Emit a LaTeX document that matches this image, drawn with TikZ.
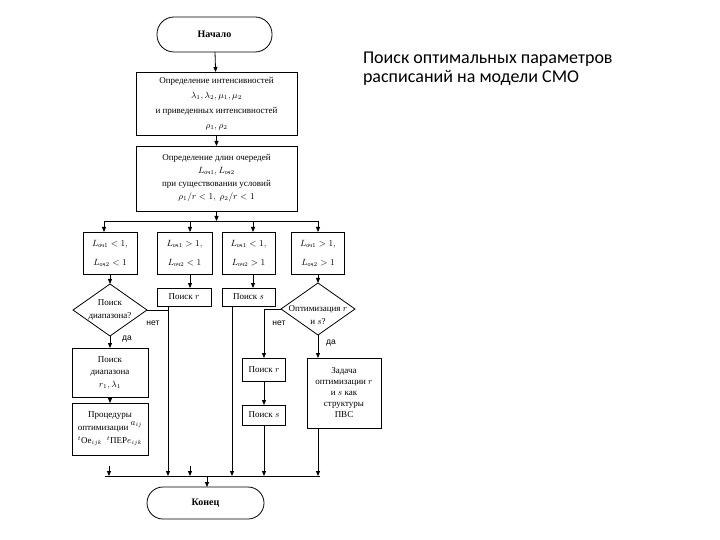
\documentclass[tikz,border=0pt]{standalone}
\usepackage{fontspec}
\usepackage{amsmath}
\setmainfont{Liberation Serif}
\newfontfamily\titlefont{Carlito}
\newfontfamily\labelfont{Liberation Sans}
\usetikzlibrary{shapes.geometric,arrows.meta}

\begin{document}
\begin{tikzpicture}[x=1pt,y=-1pt,
  every node/.style={inner sep=0pt, outer sep=0pt},
  box/.style={draw, line width=0.8pt, align=center, font=\fontsize{9}{13}\selectfont},
  term/.style={draw, line width=0.8pt, rounded corners=16pt, font=\fontsize{10}{12}\selectfont\bfseries},
  decision/.style={draw, diamond, line width=0.8pt, minimum width=74pt, minimum height=52pt},
  dtext/.style={font=\fontsize{9}{13}\selectfont, align=center},
  conn/.style={line width=0.8pt},
  arr/.style={line width=0.8pt, -{Triangle[length=5pt,width=4pt]}},
  lbl/.style={font=\labelfont\fontsize{8.5}{10}\selectfont},
  ttl/.style={anchor=base west, font=\titlefont\fontsize{18}{20}\selectfont},
]
\useasboundingbox (0,0) rectangle (720,540);
\fill[white] (0,0) rectangle (720,540);

% title
\node[ttl] (t1) at (363,64) {Поиск оптимальных параметров};
\node[ttl] (t2) at (363,83) {расписаний на модели СМО};

% top
\node[term, minimum width=115pt, minimum height=35pt, rounded corners=17pt] (start) at (214.5,34.5) {Начало};
\node[box, minimum width=161pt, minimum height=63pt, font=\fontsize{9}{15}\selectfont] (b1) at (216.5,103.5)
  {Определение интенсивностей\\$\lambda_1, \lambda_2, \mu_1, \mu_2$\\и приведенных интенсивностей\\$\rho_1, \rho_2$};
\node[box, minimum width=161pt, minimum height=65pt] (b2) at (216.5,178.5)
  {Определение длин очередей\\$L_{\text{оч}1}, L_{\text{оч}2}$\\при существовании условий\\$\rho_1/r<1,\ \rho_2/r<1$};

\draw[arr] (start) -- (b1);
\draw[arr] (b1) -- (b2);

% upper bus
\coordinate (busL) at (104,221);
\coordinate (bxB) at (190,221);
\coordinate (bxC) at (253,221);
\coordinate (busR) at (318,221);
\draw[arr] (b2.south) -- (b2.south |- busL);
\draw[conn] (busL) -- (busR);

% four condition boxes
\node[box, minimum width=54pt, minimum height=42pt, font=\fontsize{9}{19}\selectfont] (bA) at (110,253) {$L_{\text{оч}1} < 1,$\\$L_{\text{оч}2} < 1$};
\node[box, minimum width=55pt, minimum height=42pt, font=\fontsize{9}{19}\selectfont] (bB) at (184.5,253) {$L_{\text{оч}1} > 1,$\\$L_{\text{оч}2} < 1$};
\node[box, minimum width=53pt, minimum height=42pt, font=\fontsize{9}{19}\selectfont] (bC) at (248.5,253) {$L_{\text{оч}1} < 1,$\\$L_{\text{оч}2} > 1$};
\node[box, minimum width=53pt, minimum height=42pt, font=\fontsize{9}{19}\selectfont] (bD) at (318,253) {$L_{\text{оч}1} > 1,$\\$L_{\text{оч}2} > 1$};

\draw[arr] (busL) -- (busL |- bA.north);
\draw[arr] (bxB) -- (bxB |- bB.north);
\draw[arr] (bxC) -- (bxC |- bC.north);
\draw[arr] (busR) -- (busR |- bD.north);

% second row
\node[decision, label={[dtext]center:Поиск\\диапазона?}] (dA) at (110,310) {};
\node[box, minimum width=54pt, minimum height=18pt] (pr1) at (184,297) {Поиск $r$};
\node[box, minimum width=53pt, minimum height=18pt] (ps1) at (248.5,297) {Поиск $s$};
\node[decision, label={[dtext, yshift=-6pt]center:Оптимизация $r$\\и $s$?}] (dB) at (318,309) {};

\draw[arr] (bA) -- (dA);
\draw[arr] (bB.south -| bxB) -- (bxB |- pr1.north);
\draw[arr] (bC.south -| bxC) -- (bxC |- ps1.north);
\draw[arr] (bD) -- (dB);

\node[lbl] (nA) at (153,323) {нет};
\node[lbl] (yA) at (127,339) {да};
\node[lbl] (nB) at (279,323) {нет};
\node[lbl] (yB) at (331,343) {да};

% lower blocks
\node[box, minimum width=76pt, minimum height=49pt, font=\fontsize{9}{12.5}\selectfont] (sd) at (110,372.5) {Поиск\\диапазона\\$r_1, \lambda_1$};
\node[box, minimum width=76pt, minimum height=52pt, font=\fontsize{9}{13}\selectfont] (proc) at (110,429)
  {Процедуры\hspace{18pt}\\оптимизации \raisebox{5pt}{$a_{ij}$}\\${}^{t}$Oe$_{ijk}$\ \ ${}^{t}$ПЕР$e_{ijk}$};
\node[box, minimum width=43pt, minimum height=23pt] (pr2) at (264,369.5) {Поиск $r$};
\node[box, minimum width=43pt, minimum height=20pt] (ps2) at (264,415) {Поиск $s$};
\node[box, minimum width=74pt, minimum height=70pt, font=\fontsize{9}{11}\selectfont] (zad) at (344,393)
  {Задача\\оптимизации $r$\\и $s$ как\\структуры\\ПВС};

\draw[arr] (dA) -- (sd);
\draw[arr] (sd) -- (proc);
\draw[arr] (dB.west) -| (pr2.north);
\draw[arr] (pr2) -- (ps2);
\draw[arr] (dB.south) -- (dB.south |- zad.north);

% lower bus
\coordinate (bbL) at (105,476);
\coordinate (bbR) at (320,476);
\coordinate (j1) at (168,476);
\coordinate (j2) at (232,476);
\coordinate (s1t) at (109,466);
\coordinate (s1) at (109,476);
\coordinate (s2t) at (190,466);
\coordinate (s2) at (190,476);
\coordinate (eb) at (207,476);

\draw[conn] (dA.east) -- (dA.east -| j1);
\draw[arr] (pr1.south -| j1) -- (j1);
\draw[arr] (ps1.south -| j2) -- (j2);
\draw[arr] (ps2.south) -- (ps2.south |- bbL);
\draw[arr] (zad.south -| dB.south) -- (dB.south |- bbL);
\draw[arr] (s1t) -- (s1);
\draw[arr] (s2t) -- (s2);
\draw[conn] (bbL) -- (bbR);

\node[term, minimum width=117pt, minimum height=32pt] (end) at (205.5,503) {Конец};
\draw[arr] (eb) -- (eb |- end.north);
\end{tikzpicture}
\end{document}
